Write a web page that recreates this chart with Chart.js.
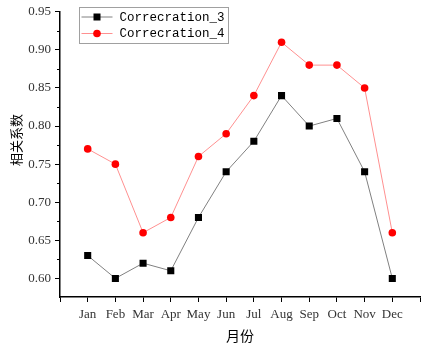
<!DOCTYPE html>
<html><head><meta charset="utf-8">
<script src="https://cdn.jsdelivr.net/npm/chart.js@4/dist/chart.umd.min.js"></script>
<style>html,body{margin:0;padding:0;background:#fff}canvas{display:block}</style>
</head><body>
<canvas id="c" width="425" height="344"></canvas>
<script>
const months = ['Jan','Feb','Mar','Apr','May','Jun','Jul','Aug','Sep','Oct','Nov','Dec'];
const correcration3 = [0.63,0.60,0.62,0.61,0.68,0.74,0.78,0.84,0.80,0.81,0.74,0.60];
const correcration4 = [0.77,0.75,0.66,0.68,0.76,0.79,0.84,0.91,0.88,0.88,0.85,0.66];
const seriesNames = ['Correcration_3','Correcration_4'];
const yTicks = [0.60,0.65,0.70,0.75,0.80,0.85,0.90,0.95];
const yMinorTicks = [0.625,0.675,0.725,0.775,0.825,0.875,0.925];
const xTitle = '月份';
const yTitle = '相关系数';

const monoFont = "'Liberation Mono', monospace";
const serifFont = "'Liberation Serif', serif";
const cjkFont = "'Noto Sans CJK SC', sans-serif";

const extras = {
  id: 'extras',
  afterDraw(chart) {
    const ctx = chart.ctx;
    const ys = chart.scales.y;
    ctx.save();
    ctx.strokeStyle = '#000';
    ctx.lineWidth = 1;
    yMinorTicks.forEach(v => {
      const py = Math.round(ys.getPixelForValue(v)) + 0.5;
      ctx.beginPath();
      ctx.moveTo(ys.right - 3, py);
      ctx.lineTo(ys.right, py);
      ctx.stroke();
    });
    // y title
    ctx.save();
    ctx.translate(16, 140);
    ctx.rotate(-Math.PI / 2);
    ctx.fillStyle = '#000';
    ctx.font = "13px " + cjkFont;
    ctx.textAlign = 'center';
    ctx.textBaseline = 'middle';
    ctx.fillText(yTitle, 0, 0);
    ctx.restore();
    // legend box
    const bx = 79.5, by = 7.5, bw = 149, bh = 36;
    ctx.fillStyle = '#fff';
    ctx.fillRect(bx, by, bw, bh);
    ctx.strokeStyle = '#a0a0a0';
    ctx.strokeRect(bx, by, bw, bh);
    chart.data.datasets.forEach((ds, i) => {
      const cy = by + 9.5 + i * 16.5;
      ctx.strokeStyle = ds.borderColor;
      ctx.lineWidth = 1;
      ctx.beginPath();
      ctx.moveTo(bx + 2, cy);
      ctx.lineTo(bx + 33, cy);
      ctx.stroke();
      ctx.fillStyle = ds.pointBackgroundColor;
      if (ds.pointStyle === 'rect') {
        ctx.fillRect(bx + 14, cy - 3.5, 7, 7);
      } else {
        ctx.beginPath();
        ctx.arc(bx + 17.5, cy, 3.8, 0, Math.PI * 2);
        ctx.fill();
      }
      ctx.fillStyle = '#000';
      ctx.font = "12.5px " + monoFont;
      ctx.textBaseline = 'middle';
      ctx.textAlign = 'left';
      ctx.fillText(ds.label, bx + 40, cy + 0.5);
    });
    ctx.restore();
  }
};

new Chart(document.getElementById('c'), {
  type: 'line',
  data: {
    datasets: [
      {
        label: seriesNames[0],
        data: correcration3.map((v, i) => ({x: i + 1, y: v})),
        borderColor: '#808080',
        borderWidth: 1,
        pointStyle: 'rect',
        pointRadius: 5,
        pointBackgroundColor: '#000',
        pointBorderColor: '#000',
        pointBorderWidth: 0
      },
      {
        label: seriesNames[1],
        data: correcration4.map((v, i) => ({x: i + 1, y: v})),
        borderColor: '#ff9090',
        borderWidth: 1,
        pointStyle: 'circle',
        pointRadius: 3.8,
        pointBackgroundColor: '#ff0000',
        pointBorderColor: '#ff0000',
        pointBorderWidth: 0
      }
    ]
  },
  options: {
    responsive: false,
    animation: false,
    layout: {padding: {left: 0, right: 2, top: 5, bottom: 0}},
    plugins: {legend: {display: false}, tooltip: {enabled: false}},
    scales: {
      x: {
        type: 'linear',
        min: 0, max: 13,
        afterBuildTicks(s) { s.ticks = Array.from({length: 14}, (_, i) => ({value: i})); },
        afterFit(s) { s.height = 47; },
        grid: {drawOnChartArea: false, tickLength: 5, color: '#000', tickWidth: 1},
        border: {color: '#000', width: 1.5},
        ticks: {
          autoSkip: false, maxRotation: 0, padding: 5, color: '#333',
          font: {family: serifFont, size: 13},
          callback: v => (v >= 1 && v <= 12) ? months[v - 1] : ''
        },
        title: {display: true, text: xTitle, color: '#000', font: {family: cjkFont, size: 14}, padding: {top: 0, bottom: 0}}
      },
      y: {
        min: 0.5756, max: 0.95,
        afterBuildTicks(s) { s.ticks = yTicks.map(v => ({value: v})); },
        afterFit(s) { s.width = 60; },
        grid: {drawOnChartArea: false, tickLength: 5, color: '#000', tickWidth: 1},
        border: {color: '#000', width: 1.5},
        ticks: {
          padding: 4, color: '#333',
          font: {family: serifFont, size: 13},
          callback: v => v.toFixed(2)
        },
        title: {display: false}
      }
    }
  },
  plugins: [extras]
});
</script>
</body></html>
